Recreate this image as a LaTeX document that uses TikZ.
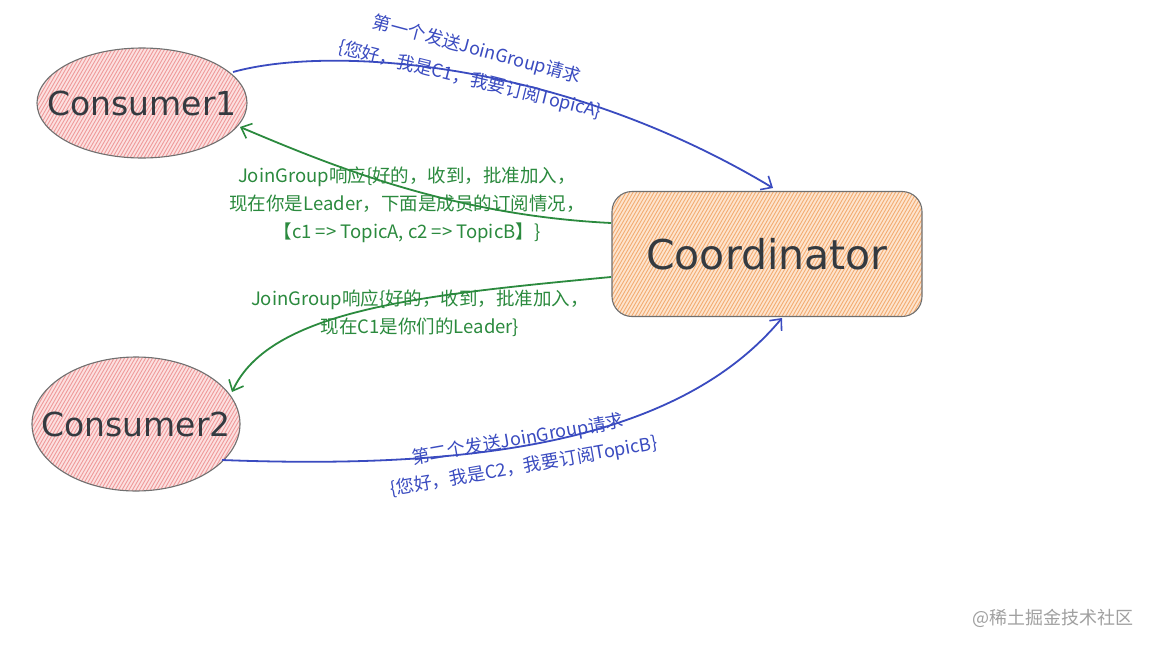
\documentclass[tikz,border=0pt]{standalone}
\usepackage{fontspec}
\setmainfont{Noto Sans CJK SC}
\newfontfamily\nodefont{DejaVu Sans}
\usetikzlibrary{arrows.meta,shapes.geometric}
\definecolor{bluec}{HTML}{3A4BC0}
\definecolor{greenc}{HTML}{2B8A3E}
\definecolor{pinkfill}{HTML}{FCE0E0}
\definecolor{pinkhatch}{HTML}{EF9A9A}
\definecolor{orfill}{HTML}{FDE4CE}
\definecolor{orhatch}{HTML}{F3AC72}
\definecolor{inkc}{HTML}{343A40}
\definecolor{borderc}{HTML}{707070}
\definecolor{wmc}{HTML}{A0A0A0}
\tikzset{
  hatchfill/.style 2 args={fill=#1, path picture={
      \foreach \k in {-120,-116.5,...,360}
        \draw[#2, line width=0.9pt]
          ([xshift=\k pt, yshift=-5pt]path picture bounding box.south west) -- ++(60:320pt);}},
  consumer/.style={ellipse, draw=borderc, line width=1.1pt, hatchfill={pinkfill}{pinkhatch},
      text=inkc, font=\nodefont\fontsize{33}{36}\selectfont, inner sep=0pt},
  coord/.style={rectangle, rounded corners=20pt, draw=borderc, line width=1.1pt, inner sep=0pt,
      hatchfill={orfill}{orhatch}, text=inkc, font=\nodefont\fontsize{41}{44}\selectfont},
  bluearrow/.style={draw=bluec, line width=1.8pt, -{Straight Barb[length=9pt,width=16pt,line width=1.6pt]}},
  greenarrow/.style={draw=greenc, line width=1.8pt, -{Straight Barb[length=9pt,width=16pt,line width=1.6pt]}},
  bluelabel/.style={text=bluec, font=\fontsize{18}{26}\selectfont, inner sep=0pt},
  greenlabel/.style={text=greenc, font=\fontsize{18.5}{28}\selectfont, align=center, inner sep=0pt},
}
\begin{document}
\begin{tikzpicture}[x=1pt,y=-1pt]
\useasboundingbox[fill=white] (0,0) rectangle (1152,648);

\node[consumer, minimum width=210pt, minimum height=110pt] (c1) at (142,103) {\makebox[0pt]{Consumer1}};
\node[consumer, minimum width=208pt, minimum height=134pt] (c2) at (136,424) {\makebox[0pt]{Consumer2}};
\node[coord, minimum width=310pt, minimum height=125pt] (co) at (767,254) {\makebox[0pt]{Coordinator}};

\coordinate (b1s) at (233,72);
\coordinate (b1e) at (773,188);
\coordinate (g1s) at (611,223);
\coordinate (g1e) at (240,127);
\coordinate (g2s) at (611,277);
\coordinate (g2e) at (232,392);
\coordinate (b2s) at (222,460);
\coordinate (b2e) at (782,318);

\draw[bluearrow] (b1s) .. controls (330,45) and (560,60) .. (b1e);
\draw[greenarrow] (g1s) .. controls (450,215) and (330,165) .. (g1e);
\draw[greenarrow] (g2s) .. controls (420,295) and (270,310) .. (g2e);
\draw[bluearrow] (b2s) .. controls (480,470) and (680,440) .. (b2e);

\node[bluelabel, rotate=-15] (l1a) at (477,50) {第一个发送JoinGroup请求};
\node[bluelabel, rotate=-14] (l1b) at (470,80) {\{您好，我是C1，我要订阅TopicA\}};
\node[greenlabel] (l2) at (407,205) {JoinGroup响应\{好的，收到，批准加入，\\现在你是Leader，下面是成员的订阅情况，\\【c1 => TopicA, c2 => TopicB】\}};
\node[greenlabel] (l3) at (420,313) {JoinGroup响应\{好的，收到，批准加入，\\现在C1是你们的Leader\}};
\node[bluelabel, rotate=10] (l4a) at (518,440) {第二个发送JoinGroup请求};
\node[bluelabel, rotate=10] (l4b) at (524,467) {\{您好，我是C2，我要订阅TopicB\}};

\node[text=wmc, font=\fontsize{18}{20}\selectfont] (wm) at (1053,618) {@稀土掘金技术社区};
\end{tikzpicture}
\end{document}
